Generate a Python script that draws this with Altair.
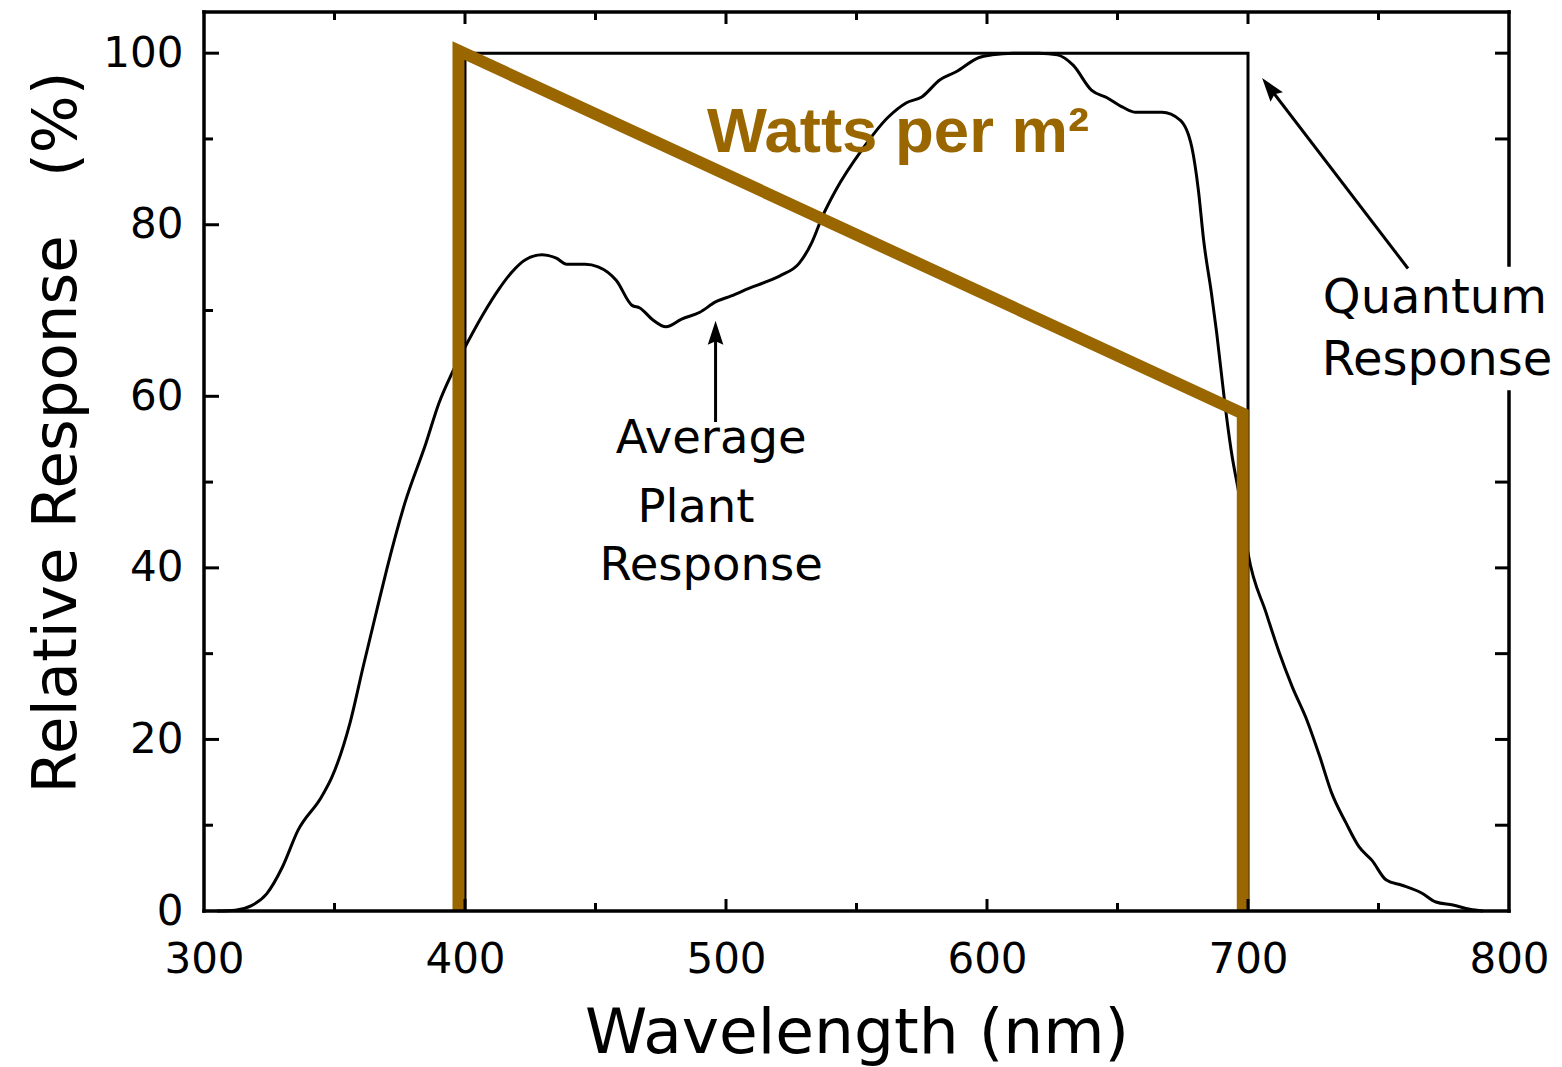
import altair as alt
import pandas as pd

# ---------------- data ----------------
plant_nm = [305, 312, 318, 324, 330, 336, 345, 349, 356, 361, 366, 370, 377, 385, 390, 395,
            401, 407, 413, 418, 423, 429.5, 435, 439, 446, 451, 458, 464, 467, 472, 477, 483,
            490, 496, 502, 509, 515, 521, 528, 533, 537, 542, 552, 562, 569, 575, 582, 588,
            597, 602, 610, 620, 627, 633, 640, 646, 652, 657, 667, 674, 678.5, 681, 683, 686,
            688, 691, 693.5, 697, 700, 707, 712, 717, 722.5, 727.5, 732, 737.5, 742.5, 747.5,
            753, 759, 766.5, 772, 778.5, 785, 790]
plant_val = [0, 0.1, 0.6, 2.0, 5.1, 9.4, 13.3, 15.6, 22.0, 28.5, 34.8, 39.8, 47.6, 54.5, 59.2, 62.7,
             66.3, 69.6, 72.5, 74.5, 75.9, 76.5, 76.1, 75.4, 75.4, 75.1, 73.5, 70.6, 70.3, 68.9, 68.1, 69.0,
             69.8, 71.0, 71.7, 72.6, 73.3, 74.1, 75.5, 78.0, 81.0, 84.0, 88.7, 92.5, 94.2, 94.9, 96.9, 97.8,
             99.5, 99.8, 100, 100, 99.8, 98.6, 95.7, 94.8, 93.7, 93.1, 93.1, 92.2, 89.0, 84.0, 78.2, 72.0,
             67.4, 59.5, 53.8, 47.8, 41.7, 34.7, 30.1, 26.1, 22.3, 18.0, 13.8, 10.3, 7.5, 5.9,
             3.6, 3.0, 2.1, 1.05, 0.7, 0.2, 0]

quantum_nm = [400, 400, 700, 700]
quantum_val = [0, 100, 100, 0]

watts_nm = [397.5, 397.5, 698, 698]
watts_val = [0, 100.3, 58, 0]

x_tick_labels = [300, 400, 500, 600, 700, 800]
y_tick_labels = [0, 20, 40, 60, 80, 100]
x_major_marks = [400, 500, 600, 700]
x_minor_marks = [350, 450, 550, 650, 750]
y_major_marks = [20, 40, 60, 80, 100]
y_minor_marks = [10, 30, 50, 70, 90]
y_right_marks = [10, 20, 30, 40, 50, 90, 100]

frame_x1 = [300, 300, 300, 800, 800]
frame_y1 = [0, 104.8, 0, 0, 75.3]
frame_x2 = [300, 800, 800, 800, 800]
frame_y2 = [104.8, 104.8, 0, 60.5, 104.8]

avg_text = ["Average", "Plant", "Response"]
avg_nm = [494.3, 488.5, 494.3]
avg_val = [53.4, 45.3, 38.6]

quant_text = ["Quantum", "Response"]
quant_nm = [771.6, 772.4]
quant_val = [69.7, 62.5]

watts_text = ["Watts per m²"]
watts_text_nm = [565.9]
watts_text_val = [88.5]

arrow_x1 = [496, 761.3]
arrow_y1 = [57.0, 74.9]
arrow_x2 = [496, 708.2]
arrow_y2 = [67.4, 96.0]
arrow_angle = [0, 322.5]

# ---------------- layout ----------------
W, H = 1305, 899
FONT = "DejaVu Sans"
BROWN = "#996600"

xs = alt.Scale(domain=[300, 800], nice=False, zero=False)
ys = alt.Scale(domain=[0, 104.8], nice=False, zero=False)

plant_df = pd.DataFrame({"nm": plant_nm, "val": plant_val})
quant_df = pd.DataFrame({"nm": quantum_nm, "val": quantum_val, "o": range(4)})
watts_df = pd.DataFrame({"nm": watts_nm, "val": watts_val, "o": range(4)})
frame_df = pd.DataFrame({"x1": frame_x1, "y1": frame_y1, "x2": frame_x2, "y2": frame_y2})
arrow_df = pd.DataFrame({"x1": arrow_x1, "y1": arrow_y1, "x2": arrow_x2, "y2": arrow_y2, "a": arrow_angle})

x_axis = alt.Axis(values=x_tick_labels, ticks=False, domain=False, grid=False,
                  labelFontSize=42, labelFont=FONT, labelColor="black", labelPadding=28,
                  labelFlush=False, labelOverlap=False,
                  title="Wavelength (nm)", titleFontSize=63, titleFont=FONT,
                  titleFontWeight="normal", titleColor="black", titleY=141,
                  titleBaseline="alphabetic")
y_axis = alt.Axis(values=y_tick_labels, ticks=False, domain=False, grid=False,
                  labelFontSize=42, labelFont=FONT, labelColor="black", labelPadding=21,
                  labelFlush=False, labelOverlap=False,
                  title="Relative\u00a0Response\u00a0\u00a0\u00a0(%)", titleFontSize=61,
                  titleFont=FONT, titleFontWeight="normal", titleColor="black",
                  titleAngle=270, titleX=-129, titleY=420, titleBaseline="alphabetic",
                  titleAlign="center")

watts_label = alt.Chart(pd.DataFrame({"t": watts_text, "nm": watts_text_nm, "val": watts_text_val})).mark_text(
    font="Liberation Sans", fontSize=63.5, fontWeight="bold", color=BROWN, align="center",
    baseline="alphabetic").encode(x=alt.X("nm:Q", scale=xs), y=alt.Y("val:Q", scale=ys), text="t:N")

plant = alt.Chart(plant_df).mark_line(color="black", strokeWidth=3, interpolate="monotone").encode(
    x=alt.X("nm:Q", scale=xs, axis=x_axis),
    y=alt.Y("val:Q", scale=ys, axis=y_axis),
)

quantum = alt.Chart(quant_df).mark_line(color="black", strokeWidth=3, strokeJoin="miter").encode(
    x=alt.X("nm:Q", scale=xs), y=alt.Y("val:Q", scale=ys), order="o:Q")

watts = alt.Chart(watts_df).mark_line(color=BROWN, strokeWidth=12, strokeJoin="miter",
                                      strokeCap="butt").encode(
    x=alt.X("nm:Q", scale=xs), y=alt.Y("val:Q", scale=ys), order="o:Q")

frame = alt.Chart(frame_df).mark_rule(color="black", strokeWidth=3.5, strokeCap="square").encode(
    x=alt.X("x1:Q", scale=xs), y=alt.Y("y1:Q", scale=ys), x2="x2:Q", y2="y2:Q")

def xt(vals, y0, y1):
    return alt.Chart(pd.DataFrame({"v": vals})).mark_rule(color="black", strokeWidth=3).encode(
        x=alt.X("v:Q", scale=xs), y=alt.value(y0), y2=alt.value(y1))

def yt(vals, x0, x1):
    return alt.Chart(pd.DataFrame({"v": vals})).mark_rule(color="black", strokeWidth=3).encode(
        y=alt.Y("v:Q", scale=ys), x=alt.value(x0), x2=alt.value(x1))

ticks = [
    xt(x_major_marks, H, H - 12), xt(x_minor_marks, H, H - 8),
    xt(x_major_marks, 0, 12), xt(x_minor_marks, 0, 8),
    yt(y_major_marks, 0, 15), yt(y_minor_marks, 0, 9),
    yt(y_right_marks, W, W - 14),
]

avg_label = alt.Chart(pd.DataFrame({"t": avg_text, "nm": avg_nm, "val": avg_val})).mark_text(
    font=FONT, fontSize=46.5, color="black", align="center", baseline="alphabetic").encode(
    x=alt.X("nm:Q", scale=xs), y=alt.Y("val:Q", scale=ys), text="t:N")

quant_label = alt.Chart(pd.DataFrame({"t": quant_text, "nm": quant_nm, "val": quant_val})).mark_text(
    font=FONT, fontSize=48, color="black", align="center", baseline="alphabetic").encode(
    x=alt.X("nm:Q", scale=xs), y=alt.Y("val:Q", scale=ys), text="t:N")

arrow_lines = alt.Chart(arrow_df).mark_rule(color="black", strokeWidth=3).encode(
    x=alt.X("x1:Q", scale=xs), y=alt.Y("y1:Q", scale=ys), x2="x2:Q", y2="y2:Q")

arrow_heads = alt.Chart(arrow_df).mark_point(
    shape="M0,-1L0.65,1L0,0.7L-0.65,1Z", filled=True, color="black", opacity=1,
    size=576, strokeWidth=0).encode(
    x=alt.X("x2:Q", scale=xs), y=alt.Y("y2:Q", scale=ys), angle=alt.Angle("a:Q", scale=None))

chart = alt.layer(
    plant, watts_label, quantum, watts, frame, *ticks, avg_label, quant_label, arrow_lines, arrow_heads
).properties(
    width=W, height=H,
    autosize=alt.AutoSizeParams(type="none"),
    padding={"left": 204, "top": 12, "right": 53, "bottom": 156},
    background="white",
).configure_view(stroke=None)

chart.save("out.html", embed_options={"renderer": "svg", "actions": False})
